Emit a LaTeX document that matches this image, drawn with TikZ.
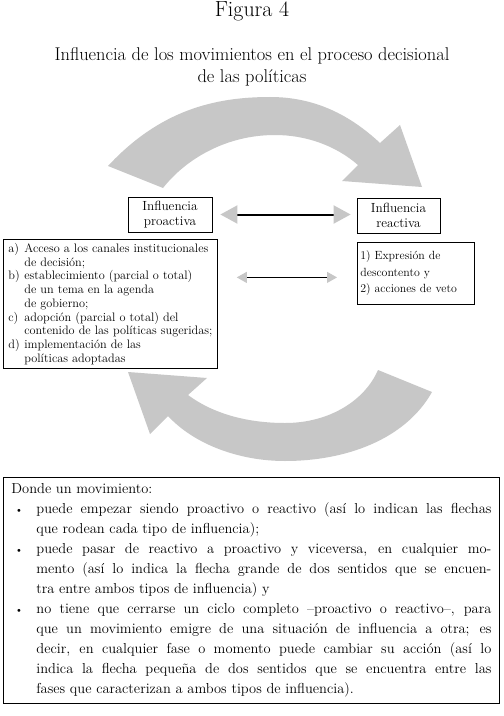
\documentclass[tikz,border=0pt]{standalone}
\usepackage{fontspec}
\usetikzlibrary{arrows.meta,calc}
\definecolor{arrgrey}{RGB}{199,199,199}
\newcommand{\mylbl}[1]{\makebox[16bp][l]{#1}}
\newcommand{\mycont}{\hspace*{16bp}}
\newcommand{\mybul}{\leavevmode\llap{\makebox[25bp][l]{\hspace{3.5bp}\raisebox{0.5bp}{\fontsize{11}{11}\selectfont\textbullet}}}}
\begin{document}
\begin{tikzpicture}[x=1bp,y=-1bp,
  boxline/.style={draw=black,line width=0.8bp},
  infobox/.style={boxline,align=center,minimum width=84bp,minimum height=35bp,inner sep=1bp,font=\fontsize{13.3}{15}\selectfont},
  bigdbl/.style={line width=2bp,{Triangle[color=arrgrey,length=17bp,width=18bp]}-{Triangle[color=arrgrey,length=17bp,width=18bp]}},
  smalldbl/.style={line width=0.9bp,{Triangle[color=arrgrey,length=10bp,width=11bp]}-{Triangle[color=arrgrey,length=10bp,width=11bp]}},
  bigarrow/.style={fill=arrgrey,draw=none}]
\useasboundingbox (0,0) rectangle (504,716);
\fill[white] (0,0) rectangle (504,716);

\node (fig) at (252,11.5) {\fontsize{22}{24}\selectfont Figura 4};
\node[align=center,font=\fontsize{18.5}{22}\selectfont] (title) at (252,66.5)
  {Influencia de los movimientos en el proceso decisional\\de las políticas};

% top curved arrow
\fill[bigarrow] (108,166) .. controls (160,110) and (215,97) .. (270,97)
  .. controls (315,97) and (350,115) .. (380,143)
  -- (400,125) -- (422,187) -- (342,181) -- (358,165)
  .. controls (335,145) and (305,135) .. (275,135)
  .. controls (225,135) and (185,160) .. (163,188) -- cycle;

% bottom curved arrow
\fill[bigarrow] (432,392) .. controls (405,440) and (345,461) .. (285,461)
  .. controls (240,461) and (195,445) .. (168,416)
  -- (150,434) -- (128,372) -- (207,378) -- (188,395)
  .. controls (215,415) and (250,423) .. (285,423)
  .. controls (330,423) and (365,400) .. (378,370) -- cycle;

\node[infobox] (pro) at (170,214.5) {Influencia\\proactiva};
\node[infobox,minimum width=83bp] (rea) at (398.5,215.5) {Influencia\\reactiva};

\node[boxline,anchor=north west,minimum width=214bp,minimum height=129bp,
  text width=208bp,inner xsep=3bp,inner ysep=1bp,align=left,
  font=\fontsize{12.3}{13.8}\selectfont] (list) at (3,239)
  {\hspace*{2bp}\mylbl{a)}Acceso a los canales institucionales\\
   \hspace*{2bp}\mycont de decisión;\\
   \hspace*{2bp}\mylbl{b)}establecimiento (parcial o total)\\
   \hspace*{2bp}\mycont de un tema en la agenda\\
   \hspace*{2bp}\mycont de gobierno;\\
   \hspace*{2bp}\mylbl{c)}adopción (parcial o total) del\\
   \hspace*{2bp}\mycont\mbox{contenido de las políticas sugeridas;}\\
   \hspace*{2bp}\mylbl{d)}implementación de las\\
   \hspace*{2bp}\mycont políticas adoptadas};

\node[boxline,anchor=north west,minimum width=117bp,minimum height=62bp,
  text width=111bp,inner xsep=3bp,inner ysep=1bp,align=left,
  font=\fontsize{11.9}{16.5}\selectfont] (rbox) at (357,242)
  {1) Expresión de\\descontento y\\2) acciones de veto};

\draw[bigdbl] ([xshift=8bp]pro.east) -- ([xshift=-6bp]pro.east -| rea.west);
\draw[smalldbl] ([xshift=19bp,yshift=-4bp]list.east |- rbox.west) -- ([xshift=-20bp,yshift=-4bp]rbox.west);

\node[boxline,anchor=north west,minimum width=496bp,minimum height=226bp,
  text width=480bp,inner xsep=8bp,inner ysep=2bp,align=justify,
  font=\fontsize{14.5}{20.1}\selectfont] (note) at (3,477)
  {\hyphenpenalty=10000\tolerance=9999\emergencystretch=0pt
   \noindent Donde un movimiento:\par
   \hangindent=25bp\hangafter=0\mybul puede empezar siendo proactivo o reactivo (así lo indican las flechas\linebreak que rodean cada tipo de influencia);\par
   \hangindent=25bp\hangafter=0\mybul puede pasar de reactivo a proactivo y viceversa, en cualquier mo-\linebreak mento (así lo indica la flecha grande de dos sentidos que se encuen-\linebreak tra entre ambos tipos de influencia) y\par
   \hangindent=25bp\hangafter=0\mybul no tiene que cerrarse un ciclo completo –proactivo o reactivo–, para\linebreak que un movimiento emigre de una situación de influencia a otra; es\linebreak decir, en cualquier fase o momento puede cambiar su acción (así lo\linebreak indica la flecha pequeña de dos sentidos que se encuentra entre las\linebreak fases que caracterizan a ambos tipos de influencia).\par};
\end{tikzpicture}
\end{document}
